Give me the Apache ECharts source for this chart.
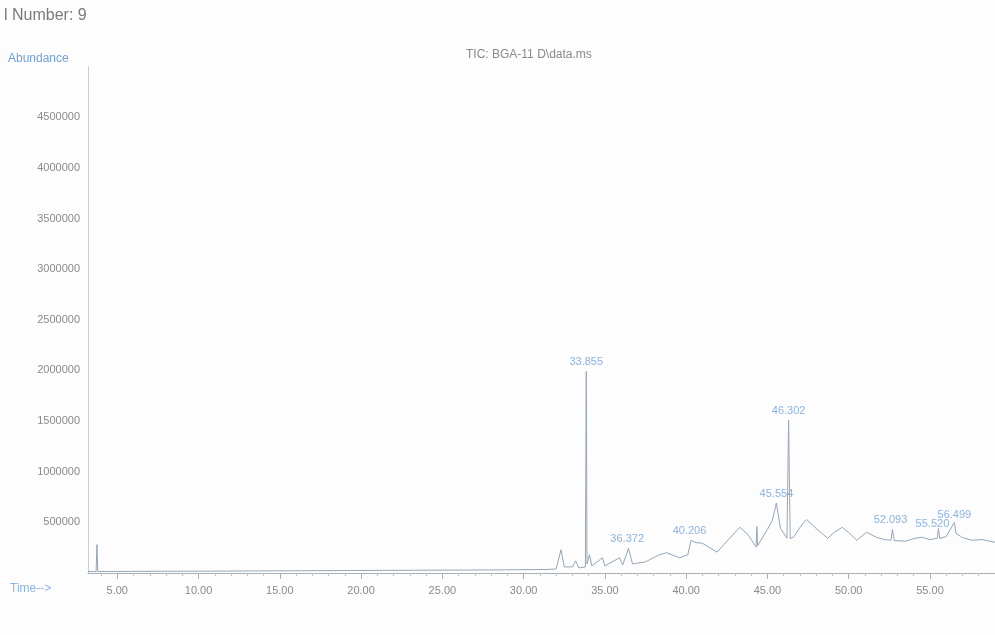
<!DOCTYPE html>
<html><head><meta charset="utf-8">
<script src="https://cdn.jsdelivr.net/npm/echarts@6/dist/echarts.min.js"></script>
<style>html,body{margin:0;padding:0;background:#fdfdfd}#c{width:995px;height:635px}</style>
</head><body><div id="c"></div>
<script>
// retention time (min) and abundance of the TIC trace
const ticTimes = [3.2,3.7,3.75,3.8,10,20,28,31.5,32.0,32.3,32.5,33.0,33.2,33.4,33.8,33.855,33.9,34.05,34.2,34.85,35.0,35.9,36.1,36.45,36.7,37.5,38.35,38.8,39.6,40.1,40.3,40.6,41.0,41.9,42.6,43.3,43.8,44.3,44.35,44.4,45.0,45.3,45.55,45.8,46.2,46.302,46.4,46.6,47.0,47.4,48.0,48.7,49.1,49.6,50.0,50.5,51.1,51.7,52.2,52.6,52.69,52.8,53.5,54.0,54.5,55.0,55.45,55.52,55.6,56.0,56.499,56.6,57.0,57.6,58.2,59.0];
const ticValues = [15000,15000,280000,15000,18000,25000,30000,35000,40000,230000,60000,60000,120000,50000,60000,1990000,90000,180000,70000,150000,70000,150000,80000,245000,90000,110000,180000,200000,150000,180000,323000,300000,294000,206000,330000,451000,380000,255000,460000,270000,430000,520000,690000,441000,343000,1510000,340000,353000,450000,529000,440000,343000,400000,451000,400000,323000,402000,353000,330000,323000,430000,320000,314000,340000,353000,330000,343000,440000,340000,360000,500000,392000,350000,323000,330000,304000];
// labelled peaks
const peakTimes = [33.855,36.372,40.206,45.554,46.302,52.693,55.520,56.499];
const peakHeights = [1990000,245000,323000,690000,1510000,430000,390000,480000];
const peakLabels = ["33.855","36.372","40.206","45.554","46.302","52.093","55.520","56.499"];
// axes
const yTicks = [500000,1000000,1500000,2000000,2500000,3000000,3500000,4000000,4500000];
const xMajorTicks = [5,10,15,20,25,30,35,40,45,50,55];
const xMinorTicks = [4,6,7,8,9,11,12,13,14,16,17,18,19,21,22,23,24,26,27,28,29,31,32,33,34,36,37,38,39,41,42,43,44,46,47,48,49,51,52,53,54,56,57,58];

const chart = echarts.init(document.getElementById('c'), null, {renderer:'canvas'});
const ticData = ticTimes.map((t,i)=>[t,ticValues[i]]);
const labelShift = {"55.520":[-6,0], "52.093":[-2,0]};
const peakData = peakTimes.map((t,i)=>({value:[t,peakHeights[i]], label:{formatter:peakLabels[i], offset:labelShift[peakLabels[i]]||[0,0]}}));
const font = 'Liberation Sans, Arial, sans-serif';
const xBase = {type:'value', min:3.2, max:59, gridIndex:0, splitLine:{show:false}};
chart.setOption({
  backgroundColor:'#fdfdfd',
  animation:false,
  grid:{left:88, right:0, top:97, bottom:62, containLabel:false},
  graphic:[
    {type:'text', left:4, top:8, style:{text:'l Number: 9', fill:'#7a7a7a', font:'16px '+font}},
    {type:'text', left:8, top:53, style:{text:'Abundance', fill:'#6f9fe0', font:'12px '+font}},
    {type:'text', left:466, top:49, style:{text:'TIC: BGA-11 D\\data.ms', fill:'#8a8a8a', font:'12px '+font}},
    {type:'text', left:10, top:583, style:{text:'Time-->', fill:'#8fb3e6', font:'12px '+font}},
    {type:'line', shape:{x1:88.5, y1:66, x2:88.5, y2:97}, style:{stroke:'#c8d0d8', lineWidth:1}}
  ],
  xAxis:[
    Object.assign({}, xBase, {
      axisLine:{show:true, lineStyle:{color:'#a8b0b8', width:1}},
      axisTick:{show:true, customValues:xMajorTicks, length:6, lineStyle:{color:'#a8b0b8'}},
      axisLabel:{show:true, customValues:xMajorTicks, formatter:v=>v.toFixed(2), color:'#8a8a8a', fontSize:11, fontFamily:font, margin:12}
    }),
    Object.assign({}, xBase, {
      position:'bottom',
      axisLine:{show:false},
      axisTick:{show:true, customValues:xMinorTicks, length:3, lineStyle:{color:'#b8c0c8'}},
      axisLabel:{show:false}
    })
  ],
  yAxis:{
    type:'value', min:0, max:4700000,
    axisLine:{show:true, lineStyle:{color:'#c8d0d8'}},
    axisTick:{show:false},
    splitLine:{show:false},
    axisLabel:{customValues:yTicks, color:'#8a8a8a', fontSize:11, fontFamily:font, margin:8, formatter:v=>String(v)}
  },
  series:[
    {type:'line', data:ticData, showSymbol:false, symbol:'none', lineStyle:{color:'#95a6b8', width:1}, silent:true},
    {type:'scatter', data:peakData, symbolSize:0, silent:true,
     label:{show:true, position:'top', distance:4, color:'#6f9fe0', fontSize:11, fontFamily:font}}
  ]
});
</script></body></html>
